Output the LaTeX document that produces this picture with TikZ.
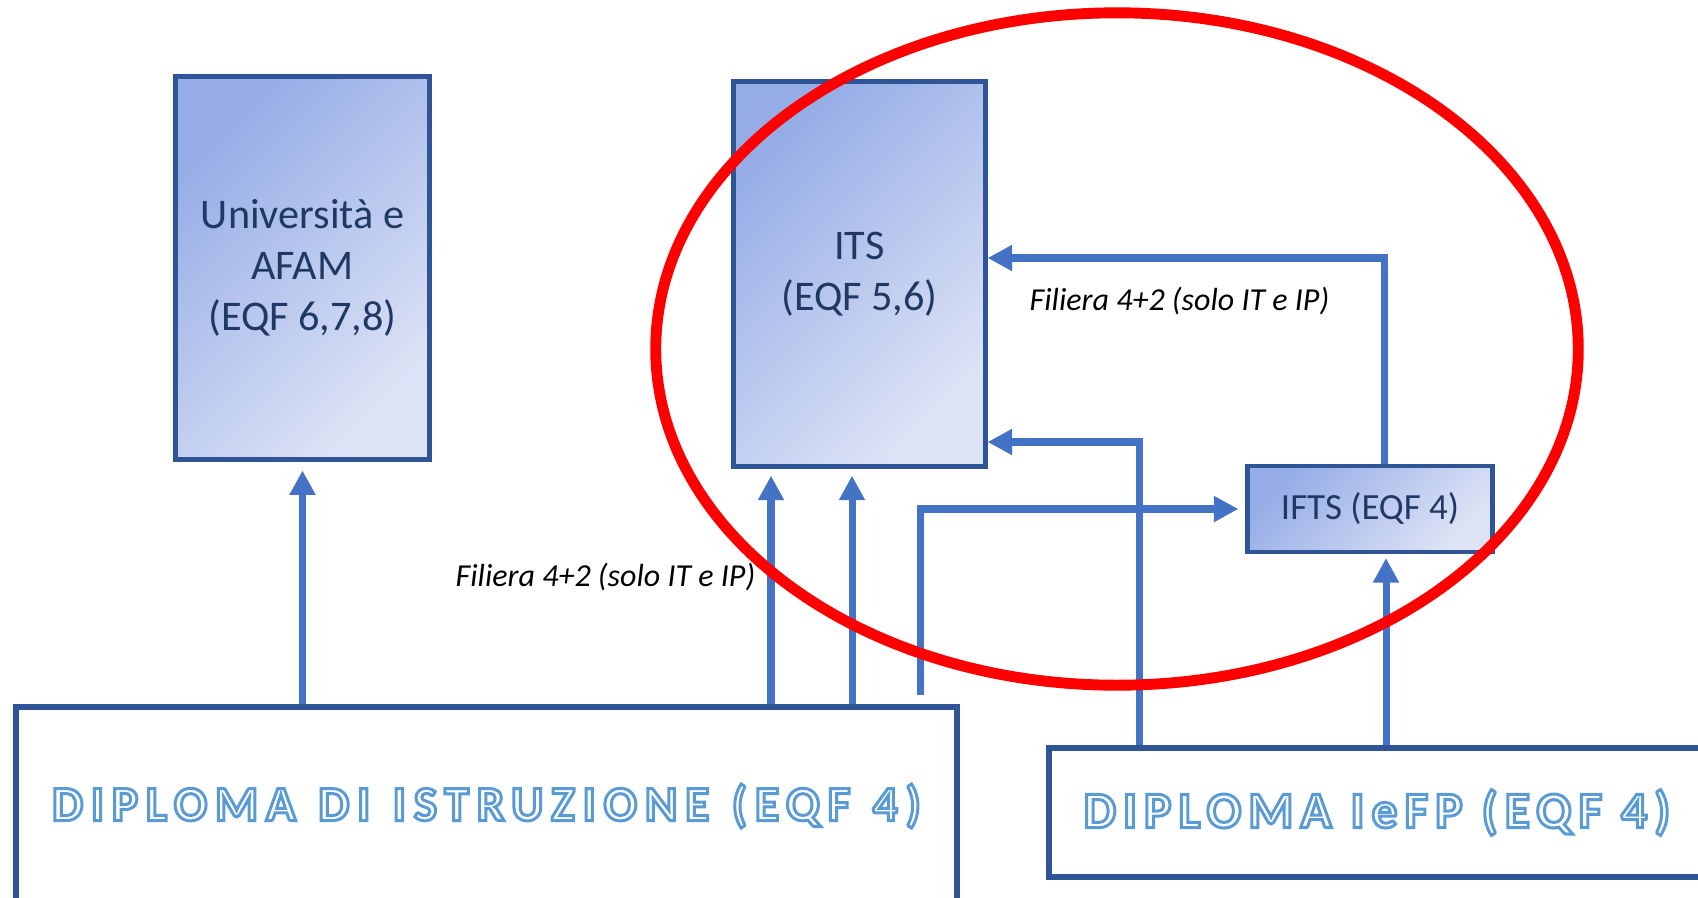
\documentclass[tikz,border=0pt]{standalone}
\usepackage{fontspec}
\setmainfont{Carlito}
\usetikzlibrary{arrows.meta}

\definecolor{boxline}{HTML}{2F5597}
\definecolor{boxtop}{HTML}{95ACE6}
\definecolor{boxbot}{HTML}{DEE4F6}
\definecolor{boxtext}{HTML}{203864}
\definecolor{arrowblue}{HTML}{4472C4}

% white letters with a light blue outline, wider word gaps
\newcommand{\hollow}[2][6pt]{{\spaceskip=#1\relax\color{white}\special{pdf:literal direct 2 Tr 0.85 w 0.357 0.608 0.835 RG}#2\special{pdf:literal direct 0 Tr}}}

\begin{document}
\begin{tikzpicture}[
        x=0.01cm, y=-0.01cm,
        box/.style={draw=boxline, line width=1.4pt, top color=boxtop, bottom color=boxbot,
            shading angle=45, text=boxtext, align=center, inner sep=0pt,
            font=\fontsize{12}{14.4}\selectfont},
        plainbox/.style={draw=boxline, line width=1.6pt, fill=white, inner sep=0pt},
        diplo/.style={font=\fontsize{14}{17}\selectfont\bfseries\addfontfeatures{LetterSpace=16}},
        arr/.style={arrowblue, line width=2pt, -{Triangle[length=7pt,width=7pt]}},
        filiera/.style={font=\fontsize{9.1}{11}\selectfont\itshape, anchor=west, inner sep=0pt}
    ]
        \useasboundingbox (0,0) rectangle (1698,897);

        % Upper boxes
        \node[box, minimum width=2.53cm, minimum height=3.82cm] (univ) at (302.5,268) {Università e\\AFAM\\(EQF 6,7,8)};
        \node[box, minimum width=2.51cm, minimum height=3.84cm] (its) at (859.5,274) {ITS\\(EQF 5,6)};
        \node[box, minimum width=2.44cm, minimum height=0.86cm, font=\fontsize{10.5}{12}\selectfont] (ifts) at (1370,509) {IFTS (EQF 4)};

        % Diplomas at the bottom
        \node[plainbox, minimum width=9.41cm, minimum height=1.98cm, diplo] (dipist) at (486.5,806) {\hollow[6.4pt]{DIPLOMA DI ISTRUZIONE (EQF 4)}};
        \node[plainbox, minimum width=6.56cm, minimum height=1.29cm, font=\fontsize{14.6}{17}\selectfont\bfseries\addfontfeatures{LetterSpace=14}] (iefp) at (1377,812.5) {\hollow[5.4pt]{DIPLOMA IeFP (EQF 4)}};

        % Paths upward
        \draw[arr, shorten >=2.5pt] (dipist.north -| univ.south) -- (univ.south);
        \draw[arr, shorten >=2pt] (dipist.north -| 771,0) -- (its.south -| 771,0);
        \draw[arr, shorten >=2pt] (dipist.north -| 852,0) -- (its.south -| 852,0);
        \draw[arr, shorten <=2.5pt, shorten >=2pt] (dipist.north -| 920,0) |- (ifts.west);
        \draw[arr] (iefp.north -| 1139,0) |- (its.east |- 0,442);
        \draw[arr, shorten >=1pt] (iefp.north -| 1386,0) -- (ifts.south -| 1386,0);
        \draw[arr] (ifts.north -| 1384,0) |- (its.east |- 0,258);

        % 4+2 labels
        \node[filiera] (fil1) at (1029,301) {Filiera 4+2 (solo IT e IP)};
        \node[filiera] (fil2) at (455,577) {Filiera 4+2 (solo IT e IP)};

        % Red ring
        \draw[red, line width=3.1pt] (1117,349) ellipse [x radius=4.61cm, y radius=3.36cm];
    \end{tikzpicture}
\end{document}
